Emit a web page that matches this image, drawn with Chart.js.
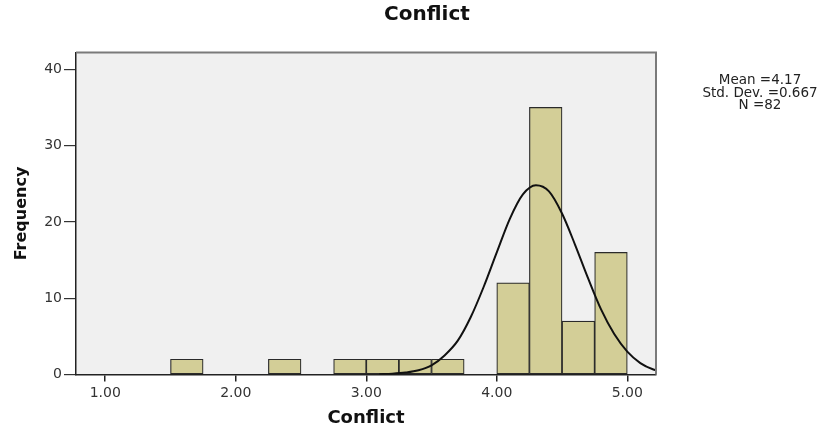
<!DOCTYPE html>
<html>
<head>
<meta charset="utf-8">
<script src="https://cdn.jsdelivr.net/npm/chart.js@4/dist/chart.umd.min.js"></script>
<style>
  html, body { margin: 0; padding: 0; background: #ffffff; }
  #wrap { width: 830px; height: 429px; position: relative; }
</style>
</head>
<body>
<div id="wrap"><canvas id="c" width="830" height="429"></canvas></div>
<script>
// ---- data ----
const chartTitle = "Conflict";
const xAxisTitle = "Conflict";
const yAxisTitle = "Frequency";
const binCenters = [1.625, 2.375, 2.875, 3.125, 3.375, 3.625, 4.125, 4.375, 4.625, 4.875];
const frequencies = [2, 2, 2, 2, 2, 2, 12, 35, 7, 16];
const xTickValues = [1, 2, 3, 4, 5];
const yTickValues = [0, 10, 20, 30, 40];
const curveX = [3.1, 3.2, 3.3, 3.4, 3.5, 3.6, 3.7, 3.8, 3.9, 4.0, 4.1, 4.2, 4.3, 4.4, 4.5, 4.6, 4.7, 4.8, 4.9, 5.0, 5.1, 5.2, 5.22];
const curveY = [0.03, 0.1, 0.25, 0.55, 1.2, 2.5, 4.4, 7.5, 11.5, 16.0, 20.4, 23.6, 24.8, 24.0, 21.1, 17.0, 12.6, 8.5, 5.3, 3.0, 1.5, 0.65, 0.56];
const statsLines = ["Mean =4.17", "Std. Dev. =0.667", "N =82"];

const FONT = "'DejaVu Sans', 'Liberation Sans', sans-serif";

const plotDecor = {
  id: 'plotDecor',
  beforeDraw(chart) {
    const a = chart.chartArea, ctx = chart.ctx;
    ctx.save();
    ctx.fillStyle = '#f0f0f0';
    ctx.fillRect(a.left, a.top, a.right - a.left, a.bottom - a.top);
    ctx.restore();
  },
  afterDraw(chart) {
    const a = chart.chartArea, ctx = chart.ctx;
    ctx.save();
    ctx.strokeStyle = '#7a7a7a';
    ctx.lineWidth = 2;
    ctx.beginPath();
    ctx.moveTo(a.left, a.top);
    ctx.lineTo(a.right, a.top);
    ctx.lineTo(a.right, a.bottom);
    ctx.stroke();
    // chart title
    ctx.fillStyle = '#111';
    ctx.font = 'bold 20px ' + FONT;
    ctx.textAlign = 'center';
    ctx.textBaseline = 'middle';
    ctx.fillText(chartTitle, 427, 15);
    // stats box text
    ctx.fillStyle = '#222';
    ctx.font = '13.5px ' + FONT;
    statsLines.forEach((s, i) => ctx.fillText(s, 760, 80.5 + i * 12.5));
    ctx.restore();
  }
};

new Chart(document.getElementById('c'), {
  type: 'bar',
  data: {
    datasets: [
      {
        type: 'line',
        data: curveX.map((x, i) => ({ x: x, y: curveY[i] })),
        borderColor: '#111',
        borderWidth: 2,
        pointRadius: 0,
        cubicInterpolationMode: 'monotone',
        fill: false,
        order: 0
      },
      {
        type: 'bar',
        data: binCenters.map((x, i) => ({ x: x, y: frequencies[i] })),
        backgroundColor: '#d3ce97',
        borderColor: '#2a2a2a',
        borderWidth: 1.2,
        borderSkipped: false,
        barPercentage: 1,
        categoryPercentage: 1,
        order: 1
      }
    ]
  },
  options: {
    responsive: false,
    animation: false,
    events: [],
    layout: { padding: { left: 0, right: 174, top: 52.5, bottom: 0 } },
    plugins: {
      legend: { display: false },
      tooltip: { enabled: false },
      title: { display: false }
    },
    scales: {
      x: {
        type: 'linear',
        min: 0.776,
        max: 5.22,
        offset: false,
        afterBuildTicks: s => { s.ticks = xTickValues.map(v => ({ value: v })); },
        afterFit: s => { s.height = 54.5; },
        border: { color: '#222', width: 1.5 },
        grid: { drawOnChartArea: false, drawTicks: true, tickLength: 7, color: '#222', lineWidth: 1.5, offset: false },
        ticks: {
          color: '#333',
          padding: 3,
          maxRotation: 0,
          font: { family: FONT, size: 14 },
          callback: v => Number(v).toFixed(2)
        },
        title: {
          display: true,
          text: xAxisTitle,
          color: '#111',
          font: { family: FONT, size: 18, weight: 'bold', lineHeight: 1.2 },
          padding: { top: 0, bottom: 0 }
        }
      },
      y: {
        min: 0,
        max: 42.2,
        afterBuildTicks: s => { s.ticks = yTickValues.map(v => ({ value: v })); },
        afterFit: s => { s.width = 76; },
        border: { color: '#222', width: 1.5 },
        grid: { drawOnChartArea: false, drawTicks: true, tickLength: 12, color: '#333', lineWidth: 1.2 },
        ticks: {
          color: '#333',
          padding: 2,
          font: { family: FONT, size: 14 },
          callback: v => String(v)
        },
        title: {
          display: true,
          text: yAxisTitle,
          color: '#111',
          font: { family: FONT, size: 16, weight: 'bold', lineHeight: 1.2 },
          padding: { top: 12, bottom: 0 }
        }
      }
    }
  },
  plugins: [plotDecor]
});
</script>
</body>
</html>
